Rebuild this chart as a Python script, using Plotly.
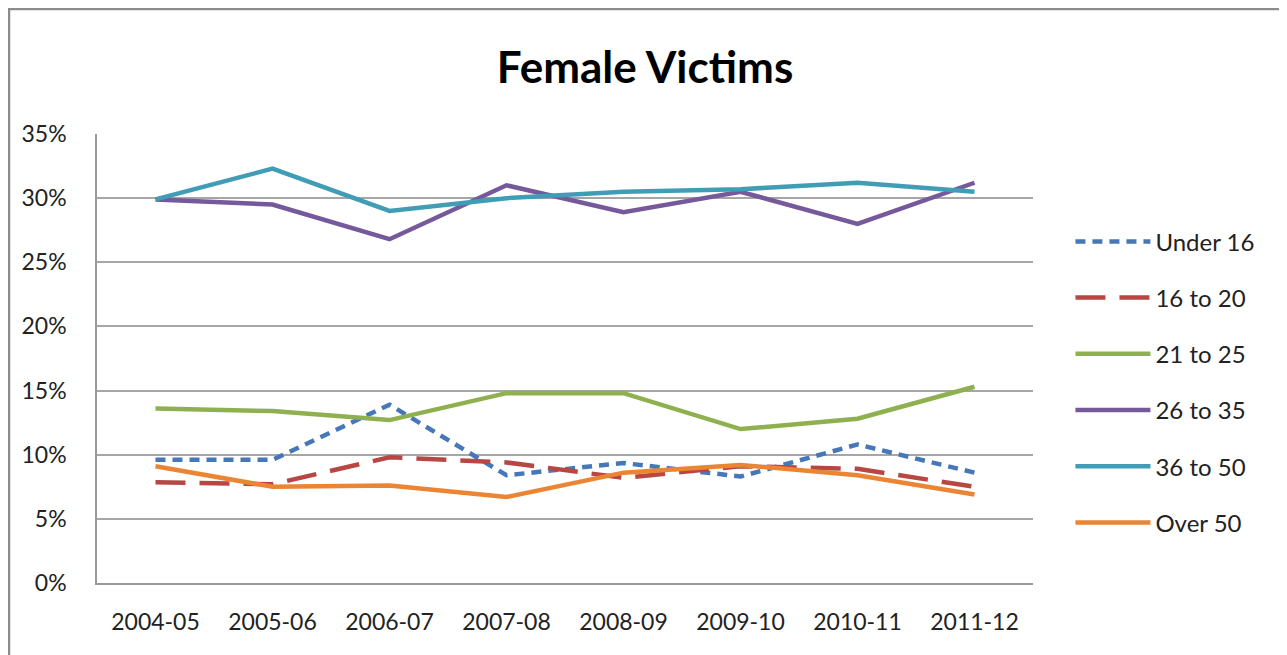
import plotly.graph_objects as go

categories = ["2004-05", "2005-06", "2006-07", "2007-08", "2008-09", "2009-10", "2010-11", "2011-12"]
under_16 = [9.6, 9.6, 13.9, 8.4, 9.35, 8.3, 10.8, 8.6]
age_16_20 = [7.85, 7.7, 9.8, 9.4, 8.2, 9.1, 8.9, 7.5]
age_21_25 = [13.6, 13.4, 12.7, 14.8, 14.8, 12.0, 12.8, 15.3]
age_26_35 = [29.9, 29.5, 26.8, 31.0, 28.9, 30.5, 28.0, 31.2]
age_36_50 = [29.9, 32.3, 29.0, 30.0, 30.5, 30.7, 31.2, 30.5]
over_50 = [9.1, 7.5, 7.6, 6.7, 8.6, 9.2, 8.4, 6.9]

series = [
    ("Under 16", under_16, "#4677B8", "10px,7px"),
    ("16 to 20", age_16_20, "#B84744", "30px,14px"),
    ("21 to 25", age_21_25, "#8FB04E", "solid"),
    ("26 to 35", age_26_35, "#76599A", "solid"),
    ("36 to 50", age_36_50, "#419DB6", "solid"),
    ("Over 50", over_50, "#EC8533", "solid"),
]

FONT = "Lato, Open Sans, sans-serif"

fig = go.Figure()
x = list(range(len(categories)))
for name, vals, color, dash in series:
    fig.add_trace(go.Scatter(
        x=x, y=[v / 100 for v in vals], name=name, mode="lines",
        legendgroup=name,
        line=dict(color=color, width=4.5, dash=dash),
    ))

# page is offset by the 8px body margin; margins compensate
L, T = 89, 126
PW, PH = 936, 449
fig.update_layout(
    width=1287, height=655,
    paper_bgcolor="white", plot_bgcolor="white",
    margin=dict(l=L, r=1287 - L - PW, t=T, b=655 - T - PH),
    title=dict(text="<b>Female Victims</b>", x=637 / 1287, xref="container", xanchor="center",
               y=1 - 60 / 655, yref="container", yanchor="middle",
               font=dict(family=FONT, size=44, color="black")),
    font=dict(family=FONT, size=23, color="#222222"),
    showlegend=True,
    legend=dict(x=1.04, y=0.81, xanchor="left", yanchor="top",
                font=dict(family=FONT, size=24, color="#222222"),
                tracegroupgap=22, itemwidth=75, bgcolor="rgba(0,0,0,0)"),
    xaxis=dict(
        tickmode="array", tickvals=x, ticktext=categories,
        range=[-0.5, len(categories) - 0.5],
        showgrid=False, zeroline=False,
        showline=True, linecolor="#9A9A9A", linewidth=1.5,
        ticks="", ticklabelstandoff=18,
    ),
    yaxis=dict(
        range=[0, 0.35], dtick=0.05, tickformat=".0%",
        showgrid=True, gridcolor="#A6A6A6", gridwidth=1.5,
        zeroline=False, showline=True, linecolor="#9A9A9A", linewidth=1.5,
        ticks="", ticklabelstandoff=24,
    ),
)

# outer chart border
fig.add_shape(type="rect", xref="paper", yref="paper",
              x0=(1 - L) / PW, x1=(1277 - L) / PW,
              y0=-0.3, y1=(T + PH - 1) / PH,
              line=dict(color="#8C8C8C", width=2.5), layer="below")

fig.write_html("out.html")
